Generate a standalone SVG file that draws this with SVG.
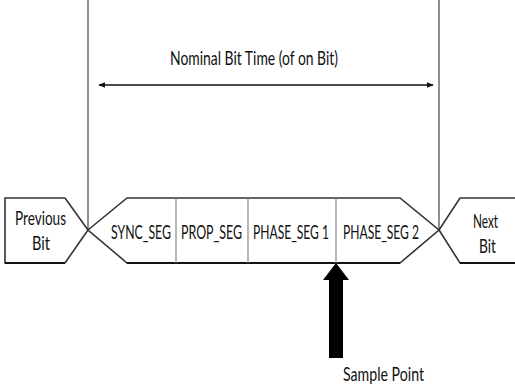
<svg xmlns="http://www.w3.org/2000/svg" width="515" height="387" viewBox="0 0 515 387">
  <style>
    .lbl { font-family: "Lato", "Liberation Sans", sans-serif; font-size: 19px; fill: #111; }
    .edge { fill: none; stroke: #333; stroke-width: 1.6; stroke-linejoin: miter; }
    .base { fill: none; stroke: #111; stroke-width: 2.2; }
    .div { stroke: #888; stroke-width: 1.2; }
    .guide { stroke: #444; stroke-width: 1.2; }
  </style>
  <defs>
    <marker id="tip" viewBox="0 0 10 10" refX="9" refY="5" markerWidth="5" markerHeight="5" orient="auto-start-reverse">
      <path d="M0,1 L10,5 L0,9 Z" fill="#111"/>
    </marker>
  </defs>
  <rect width="515" height="387" fill="#fff"/>

  <!-- bit boundaries, bit-time span and sample pointer -->
  <g id="connectors">
    <line class="guide" x1="88" y1="0" x2="88" y2="230"/>
    <line class="guide" x1="439" y1="0" x2="439" y2="230"/>
    <line x1="99" y1="85" x2="433" y2="85" stroke="#111" stroke-width="1.4" marker-start="url(#tip)" marker-end="url(#tip)"/>
    <path d="M336,263 L349,280 L343,280 L343,358 L329,358 L329,280 L323,280 Z" fill="#000"/>
  </g>

  <g id="bit-time">
    <text class="lbl" x="170" y="65" textLength="168" lengthAdjust="spacingAndGlyphs">Nominal Bit Time (of on Bit)</text>
  </g>

  <g id="previous-bit">
    <path class="edge" d="M65,198 L5,198 L5,263 L65,263"/>
    <path class="edge" d="M65,198 L88,230 L65,263"/>
    <line class="base" x1="5" y1="263" x2="65" y2="263"/>
    <text class="lbl" x="15" y="225" textLength="51" lengthAdjust="spacingAndGlyphs">Previous</text>
    <text class="lbl" x="32" y="250" textLength="18" lengthAdjust="spacingAndGlyphs">Bit</text>
  </g>

  <g id="bit-frame">
    <path class="edge" d="M88,230 L127,198 L400,198 L439,230 L400,263 L127,263 Z"/>
    <line class="base" x1="127" y1="263" x2="400" y2="263"/>
  </g>

  <g id="sync-seg">
    <line class="div" x1="176" y1="198" x2="176" y2="263"/>
    <text class="lbl" x="111" y="239" textLength="60" lengthAdjust="spacingAndGlyphs">SYNC_SEG</text>
  </g>

  <g id="prop-seg">
    <line class="div" x1="248" y1="198" x2="248" y2="263"/>
    <text class="lbl" x="181" y="239" textLength="61" lengthAdjust="spacingAndGlyphs">PROP_SEG</text>
  </g>

  <g id="phase-seg1">
    <line class="div" x1="336" y1="198" x2="336" y2="263"/>
    <text class="lbl" x="253" y="239" textLength="76" lengthAdjust="spacingAndGlyphs">PHASE_SEG 1</text>
  </g>

  <g id="phase-seg2">
    <text class="lbl" x="343" y="239" textLength="76" lengthAdjust="spacingAndGlyphs">PHASE_SEG 2</text>
  </g>

  <g id="next-bit">
    <path class="edge" d="M515,198 L460,198 L439,230 L460,263 L515,263"/>
    <line class="base" x1="460" y1="263" x2="515" y2="263"/>
    <text class="lbl" x="473" y="228" textLength="25" lengthAdjust="spacingAndGlyphs">Next</text>
    <text class="lbl" x="479" y="253" textLength="17" lengthAdjust="spacingAndGlyphs">Bit</text>
  </g>

  <g id="sample-point">
    <text class="lbl" x="343" y="381" textLength="81" lengthAdjust="spacingAndGlyphs">Sample Point</text>
  </g>
</svg>
